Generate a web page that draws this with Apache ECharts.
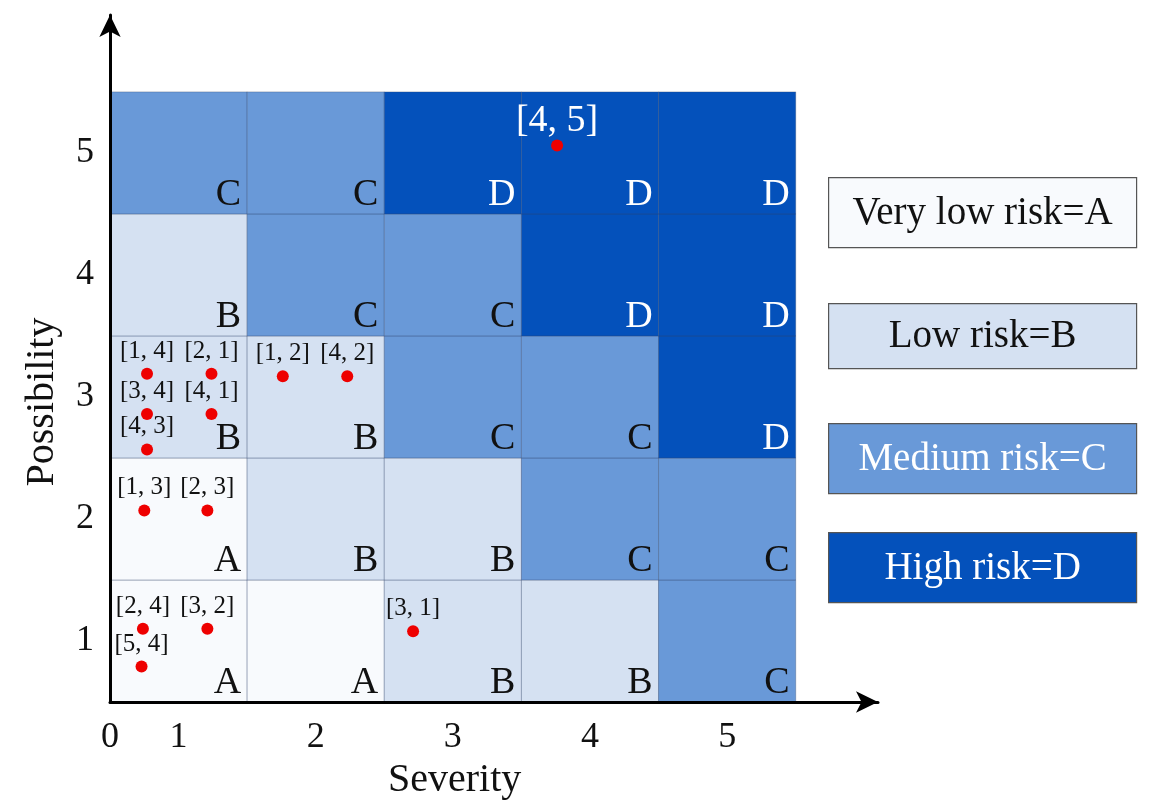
<!DOCTYPE html>
<html>
<head>
<meta charset="utf-8">
<script src="https://cdn.jsdelivr.net/npm/echarts@6/dist/echarts.min.js"></script>
<style>html,body{margin:0;padding:0;background:#fff;}#c{width:1165px;height:812px;}</style>
</head>
<body>
<div id="c"></div>
<script>
// ---- data ----
const severity = [1, 2, 3, 4, 5];
const possibility = [1, 2, 3, 4, 5];
// rows indexed by possibility 1..5, columns by severity 1..5
const riskRows = [
  ['A', 'A', 'B', 'B', 'C'],
  ['A', 'B', 'B', 'C', 'C'],
  ['B', 'B', 'C', 'C', 'D'],
  ['B', 'C', 'C', 'D', 'D'],
  ['C', 'C', 'D', 'D', 'D']
];
const riskLevels = ['A', 'B', 'C', 'D'];
const legendLabels = ['Very low risk=A', 'Low risk=B', 'Medium risk=C', 'High risk=D'];
const pointX = [0.77, 1.24, 0.77, 1.24, 0.77, 1.76, 2.23, 0.75, 1.21, 0.74, 1.21, 0.73, 2.71, 3.76];
const pointY = [3.19, 3.19, 2.86, 2.86, 2.57, 3.17, 3.17, 2.07, 2.07, 1.10, 1.10, 0.79, 1.08, 5.06];
const pointLabels = ['[1, 4]', '[2, 1]', '[3, 4]', '[4, 1]', '[4, 3]', '[1, 2]', '[4, 2]',
  '[1, 3]', '[2, 3]', '[2, 4]', '[3, 2]', '[5, 4]', '[3, 1]', '[4, 5]'];
const axisNames = { x: 'Severity', y: 'Possibility' };

// ---- styles ----
const FONT = '"Liberation Serif", "Times New Roman", serif';
const levelColors = ['#f8fafd', '#d5e1f2', '#6999d8', '#0451bb'];
const levelText = ['#111', '#111', '#fff', '#fff'];
const cellLetterColor = ['#111', '#111', '#111', '#fff'];

const cellData = [];
possibility.forEach((p, i) => {
  severity.forEach((s, j) => {
    cellData.push([s, p, riskLevels.indexOf(riskRows[i][j])]);
  });
});

const scatterData = pointX.map((x, i) => {
  const big = pointLabels[i] === '[4, 5]';
  return {
    value: [x, pointY[i]],
    name: pointLabels[i],
    label: big ? { fontSize: 38, color: '#fff', distance: 0 } : undefined
  };
});

const legendTops = [177, 303, 423, 532];
const legendHeights = [70, 65, 70, 70];
const graphics = [];
legendLabels.forEach((t, i) => {
  graphics.push({
    type: 'group', left: 828, top: legendTops[i],
    children: [
      { type: 'rect', shape: { x: 0, y: 0, width: 308, height: legendHeights[i] },
        style: { fill: levelColors[i], stroke: '#555', lineWidth: 1.2 } },
      { type: 'text', style: { text: t, x: 154, y: legendHeights[i] / 2 + 1, align: 'center', verticalAlign: 'middle',
        font: '39px ' + FONT, fill: levelText[i] } }
    ]
  });
});
graphics.push({ type: 'text', left: 388, top: 760,
  style: { text: axisNames.x, font: '40px ' + FONT, fill: '#111' } });
graphics.push({ type: 'text', x: 42, y: 402, rotation: Math.PI / 2,
  style: { text: axisNames.y, font: '40px ' + FONT, fill: '#111', align: 'center', verticalAlign: 'middle' } });

const chart = echarts.init(document.getElementById('c'), null, { renderer: 'canvas' });
chart.setOption({
  animation: false,
  backgroundColor: '#fff',
  grid: { left: 110, right: 287, top: 15, bottom: 110, containLabel: false },
  xAxis: {
    type: 'value', min: 0.5, max: 6.1, interval: 0.5, z: 5,
    splitLine: { show: false }, axisTick: { show: false },
    axisLine: { show: true, onZero: false, symbol: ['none', 'arrow'], symbolSize: [16, 22],
      lineStyle: { color: '#000', width: 3 } },
    axisLabel: {
      margin: 18, fontSize: 36, fontFamily: FONT, color: '#111',
      showMaxLabel: false,
      formatter: v => (Math.abs(v - 0.5) < 1e-6 ? '0' : (Number.isInteger(v) && v <= 5 ? String(v) : ''))
    }
  },
  yAxis: {
    type: 'value', min: 0.5, max: 6.13, interval: 0.5, z: 5,
    splitLine: { show: false }, axisTick: { show: false },
    axisLine: { show: true, onZero: false, symbol: ['none', 'arrow'], symbolSize: [16, 22],
      lineStyle: { color: '#000', width: 3 } },
    axisLabel: {
      margin: 16, fontSize: 36, fontFamily: FONT, color: '#111',
      showMaxLabel: false,
      formatter: v => (Number.isInteger(v) && v <= 5 ? String(v) : '')
    }
  },
  graphic: graphics,
  series: [
    {
      type: 'custom', z: 1,
      data: cellData,
      renderItem: function (params, api) {
        const x = api.value(0), y = api.value(1), lvl = api.value(2);
        const p1 = api.coord([x - 0.5, y + 0.5]);
        const p2 = api.coord([x + 0.5, y - 0.5]);
        return {
          type: 'group',
          children: [
            { type: 'rect', shape: { x: p1[0], y: p1[1], width: p2[0] - p1[0], height: p2[1] - p1[1] },
              style: { fill: levelColors[lvl], stroke: 'rgba(50,70,110,0.35)', lineWidth: 1 } },
            { type: 'text', style: { text: riskLevels[lvl], x: p2[0] - 6, y: p2[1] - 19,
              align: 'right', verticalAlign: 'middle', font: '38px ' + FONT, fill: cellLetterColor[lvl] } }
          ]
        };
      }
    },
    {
      type: 'scatter', z: 3,
      symbol: 'circle', symbolSize: 12,
      itemStyle: { color: '#ee0000', opacity: 1 },
      label: { show: true, position: 'top', distance: 4, formatter: '{b}',
        fontSize: 25, fontFamily: FONT, color: '#111', opacity: 1 },
      data: scatterData
    }
  ]
});
</script>
</body>
</html>
